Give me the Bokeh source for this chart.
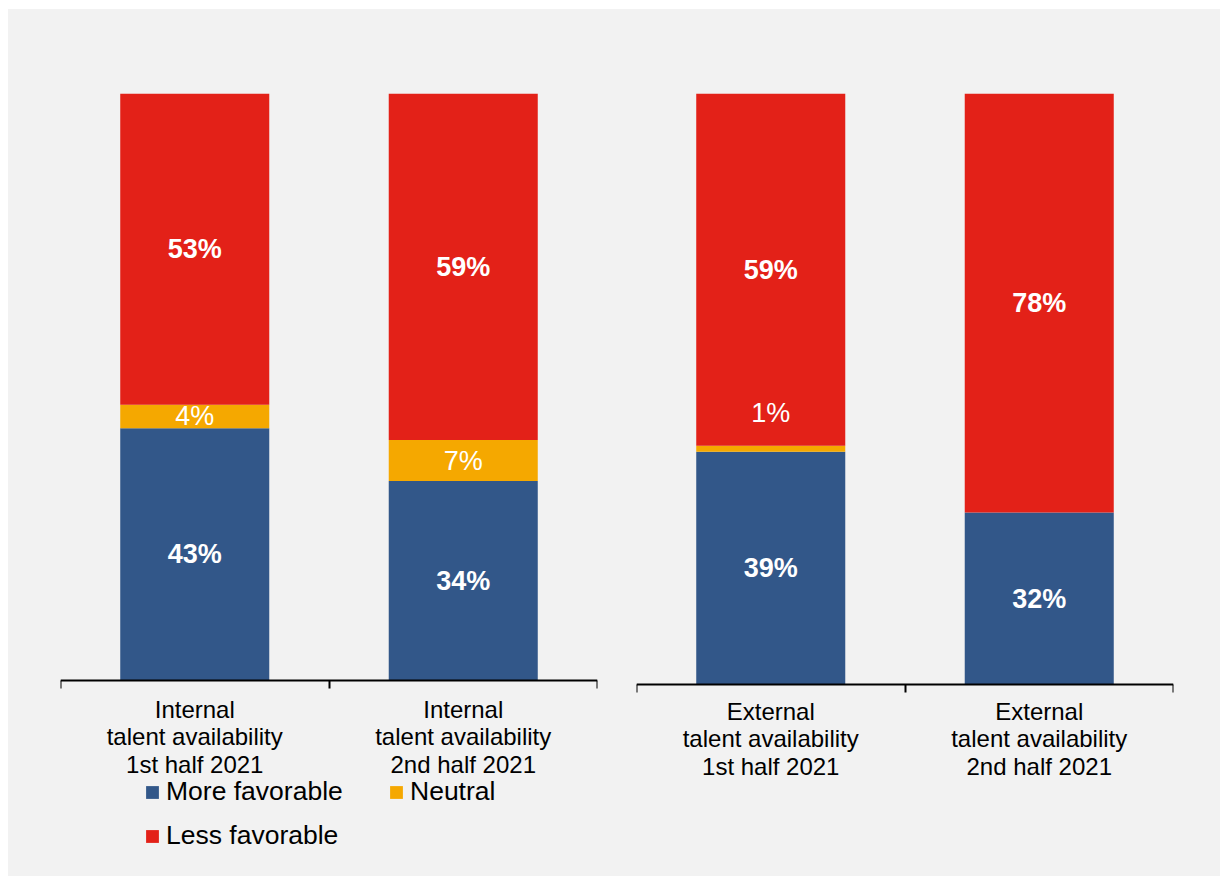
from bokeh.plotting import figure
from bokeh.models import (Range1d, FixedTicker, LinearAxis, ColumnDataSource,
                          Legend, LegendItem, Spacer)
from bokeh.layouts import row, column
from bokeh.core.properties import value
from bokeh.embed import file_html
from bokeh.resources import INLINE

# ---- data ----
categories_left = ["Internal\ntalent availability\n1st half 2021",
                   "Internal\ntalent availability\n2nd half 2021"]
categories_right = ["External\ntalent availability\n1st half 2021",
                    "External\ntalent availability\n2nd half 2021"]
more_favorable = [43, 34, 39, 32]
neutral = [4, 7, 1, 0]
less_favorable = [53, 59, 59, 78]
series_names = ["More favorable", "Neutral", "Less favorable"]
series_colors = ["#325789", "#F5A800", "#E32118"]

FONT = "Liberation Sans"
BG = "#f2f2f2"
BAR_PX = 591  # pixel height of a full (100%) bar


def make_panel(cats, idx, width, height, bl, br, bt, below_px, standoff):
    p = figure(width=width, height=height, x_range=Range1d(0, len(cats)),
               y_range=Range1d(-below_px / BAR_PX, 1), output_backend="svg",
               toolbar_location=None, x_axis_location=None, y_axis_location=None,
               min_border_left=bl, min_border_right=br, min_border_top=bt,
               min_border_bottom=0, background_fill_alpha=0,
               border_fill_color=BG, outline_line_color=None)
    p.grid.visible = False

    centers = [i + 0.5 for i in range(len(cats))]
    axis = LinearAxis(
        fixed_location=0,
        ticker=FixedTicker(ticks=centers, minor_ticks=list(range(len(cats) + 1))),
        major_label_overrides={c: lab for c, lab in zip(centers, cats)},
        major_tick_line_color=None, major_tick_in=0, major_tick_out=0,
        minor_tick_in=0, minor_tick_out=8, minor_tick_line_color="black",
        minor_tick_line_width=2, axis_line_color="black", axis_line_width=2,
        major_label_text_font=FONT, major_label_text_font_size="24px",
        major_label_text_line_height=1.026,
        major_label_text_color="black", major_label_standoff=standoff)
    p.add_layout(axis, "below")

    series = [[more_favorable[i] for i in idx], [neutral[i] for i in idx],
              [less_favorable[i] for i in idx]]
    totals = [sum(s[j] for s in series) for j in range(len(idx))]
    bottoms = [0.0] * len(idx)
    renderers = []
    lx, ly, lt, lyoff, lbold = [], [], [], [], []
    for k, (vals, color) in enumerate(zip(series, series_colors)):
        b = list(bottoms)
        t = [b[j] + vals[j] / totals[j] for j in range(len(idx))]
        src = ColumnDataSource(dict(x=centers, bottom=b, top=t))
        r = p.vbar(x="x", width=0.555, bottom="bottom", top="top", source=src,
                   fill_color=color, line_color=None)
        renderers.append(r)
        for j in range(len(idx)):
            if vals[j] <= 0:
                continue
            share = t[j] - b[j]
            lx.append(centers[j])
            lt.append(f"{vals[j]}%")
            if share < 0.03:
                ly.append(t[j])
                lyoff.append(-33)
            else:
                ly.append((b[j] + t[j]) / 2)
                lyoff.append(0)
            lbold.append("normal" if k == 1 else "bold")
        bottoms = t
    lsrc = ColumnDataSource(dict(x=lx, y=ly, text=lt, yoff=lyoff, style=lbold))
    p.text(x="x", y="y", text="text", source=lsrc, y_offset="yoff",
           text_color="white", text_font=value(FONT), text_font_size="27px",
           text_font_style="style", text_align="center", text_baseline="middle")
    return p, renderers


p1, rends = make_panel(categories_left, [0, 1], 608, 867, 52, 19, 79, 197, 7)
p2, _ = make_panel(categories_right, [2, 3], 604, 867, 20, 47, 84, 192, 5)

legend_style = dict(orientation="horizontal", glyph_width=16, glyph_height=16,
                    label_standoff=6, label_height=30, label_width=183, spacing=39,
                    padding=0, margin=0, border_line_color=None,
                    background_fill_alpha=0, label_text_font=FONT,
                    label_text_font_size="26.5px", label_text_color="black")
items = [LegendItem(label=n, renderers=[r]) for n, r in zip(series_names, rends)]
legend_row1 = Legend(items=items[:2], location=(84, 69), **legend_style)
legend_row2 = Legend(items=items[2:], location=(84, 25), **legend_style)
p1.add_layout(legend_row1, "center")
p1.add_layout(legend_row2, "center")

inner = row(p1, p2, styles={"background-color": BG})
layout = column(Spacer(height=9), row(Spacer(width=8), inner))
open("out.html", "w").write(file_html(layout, INLINE))
